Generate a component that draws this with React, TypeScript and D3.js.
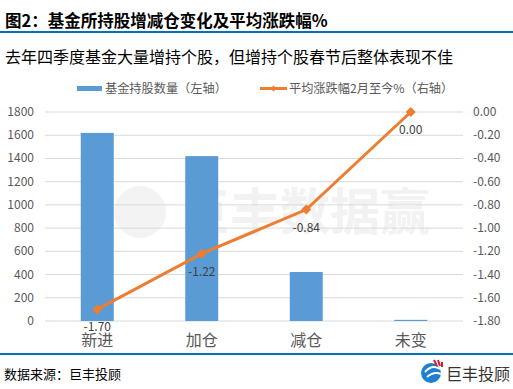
import React from "react";
import * as d3 from "d3";

const categories = ["新进", "加仓", "减仓", "未变"];
const holdCounts = [1620, 1420, 422, 10];
const avgChange = [-1.7, -1.22, -0.84, 0.0];
const leftTicks = [0, 200, 400, 600, 800, 1000, 1200, 1400, 1600, 1800];
const rightTicks = [0, -0.2, -0.4, -0.6, -0.8, -1.0, -1.2, -1.4, -1.6, -1.8];

const FONT = "'Microsoft YaHei', 'Noto Sans CJK SC', 'DejaVu Sans', sans-serif";

export default function App() {
  const W = 513, H = 389;
  const x0 = 45, x1 = 463, yTop = 112, yBot = 321;
  const yL = d3.scaleLinear().domain([0, 1800]).range([yBot, yTop]);
  const yR = d3.scaleLinear().domain([-1.8, 0]).range([yBot, yTop]);
  const band = d3.scaleBand<string>().domain(categories).range([x0, x1]);
  const cx = (c: string) => (band(c) as number) + band.bandwidth() / 2;
  const line = d3.line<number>().x((_, i) => cx(categories[i])).y((v) => yR(v));
  const bw = 33;

  return (
    <svg width={W} height={H} style={{ position: "absolute", left: 0, top: 0, background: "#fff" }} fontFamily={FONT}>
      <rect width={W} height={H} fill="#fff" />
      <text x={5} y={27} fontSize={16.5} fontWeight="bold" fill="#000">图2：基金所持股增减仓变化及平均涨跌幅%</text>
      <rect x={0} y={31} width={W} height={2} fill="#0070c0" />
      <text x={5} y={63} fontSize={16} fill="#000">去年四季度基金大量增持个股，但增持个股春节后整体表现不佳</text>

      {/* legend */}
      <rect x={77} y={86} width={25} height={5} fill="#5b9bd5" />
      <text x={105} y={93} fontSize={12.2} fill="#595959">基金持股数量（左轴）</text>
      <line x1={260} x2={287} y1={88.5} y2={88.5} stroke="#ed7d31" strokeWidth={3} />
      <path d="M273.5,85.5 L276.5,88.5 L273.5,91.5 L270.5,88.5 Z" fill="#ed7d31" />
      <text x={289} y={93} fontSize={12.2} fill="#595959">平均涨跌幅2月至今%（右轴）</text>

      {/* watermark */}
      <g opacity={0.45}>
        <circle cx={140} cy={212} r={26} fill="#e6e6e6" />
        <text x={180} y={230} fontSize={50} fill="#e3e3e3" fontWeight="bold">巨丰数据赢</text>
      </g>

      {/* gridlines */}
      {leftTicks.map((t) => (
        <line key={t} x1={x0} x2={x1} y1={yL(t)} y2={yL(t)} stroke="#d9d9d9" strokeWidth={1} />
      ))}
      {leftTicks.map((t) => (
        <text key={"l" + t} x={34} y={yL(t) + 4} fontSize={12} fill="#595959" textAnchor="end">{t}</text>
      ))}
      {rightTicks.map((t) => (
        <text key={"r" + t} x={473} y={yR(t) + 4} fontSize={12} fill="#595959">{t.toFixed(2)}</text>
      ))}

      {/* bars */}
      {categories.map((c, i) => (
        <rect key={c} x={cx(c) - bw / 2} y={yL(holdCounts[i])} width={bw} height={yBot - yL(holdCounts[i])} fill="#5b9bd5" />
      ))}

      {/* line */}
      <path d={line(avgChange) || ""} fill="none" stroke="#ed7d31" strokeWidth={3} />
      {avgChange.map((v, i) => {
        const px = cx(categories[i]), py = yR(v);
        return <path key={i} d={`M${px},${py - 5} L${px + 5},${py} L${px},${py + 5} L${px - 5},${py} Z`} fill="#ed7d31" />;
      })}
      {avgChange.map((v, i) => (
        <text key={"d" + i} x={cx(categories[i])} y={yR(v) + 22} fontSize={12} fill="#404040" textAnchor="middle">{v.toFixed(2)}</text>
      ))}

      {/* category labels */}
      {categories.map((c) => (
        <text key={"c" + c} x={cx(c)} y={346} fontSize={16} fill="#595959" textAnchor="middle">{c}</text>
      ))}

      <rect x={0} y={353} width={W} height={2} fill="#0070c0" />
      <text x={4} y={379} fontSize={13} fill="#000">数据来源：巨丰投顾</text>
      {/* logo */}
      <circle cx={431} cy={373} r={10} fill="#1f7fd0" />
      <path d="M425,372 Q432,364 440,369" stroke="#fff" strokeWidth={2} fill="none" />
      <path d="M427,377 Q434,371 441,374" stroke="#fff" strokeWidth={2} fill="none" />
      <path d="M434,360 L437,366 M438,360 L440,366 M442,362 L442,367" stroke="#d0202a" strokeWidth={2} />
      <text x={446} y={380} fontSize={16} fill="#333">巨丰投顾</text>
    </svg>
  );
}
